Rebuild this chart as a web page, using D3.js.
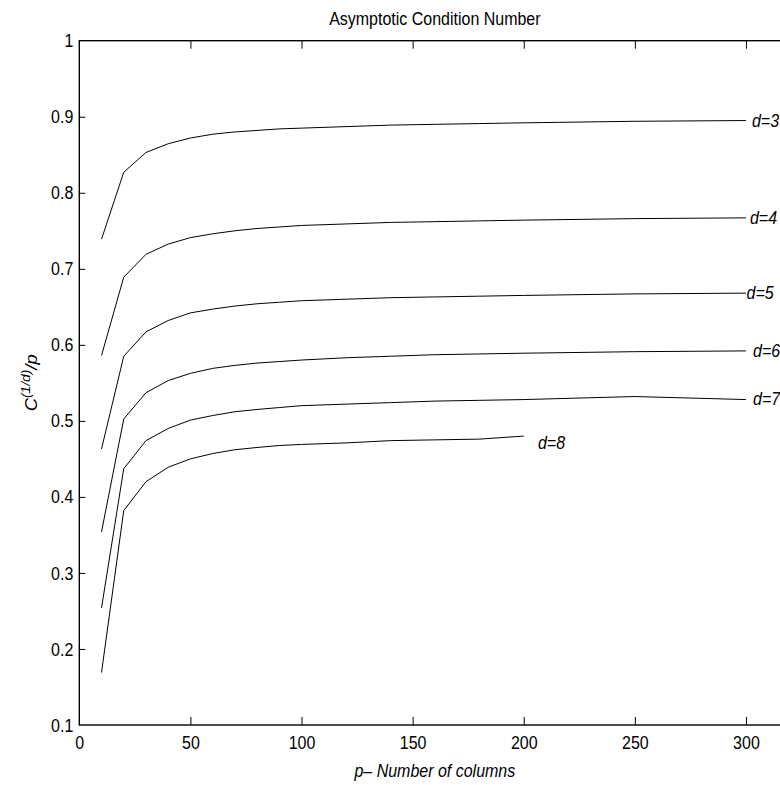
<!DOCTYPE html>
<html><head><meta charset="utf-8">
<script src="https://cdn.jsdelivr.net/npm/d3@7"></script>
<style>
html,body{margin:0;padding:0;background:#fff;}
svg{display:block;font-family:"Liberation Sans",Arial,Helvetica,sans-serif;}
</style></head>
<body>
<svg id="chart" width="780" height="785"></svg>
<script>
// ---- data ----
const pAll = [10,20,30,40,50,60,70,80,90,100,120,140,160,180,200,250,300];
const p8 = [10,20,30,40,50,60,70,80,90,100,120,140,160,180,200];
const cond3 = [0.739,0.827,0.853,0.8645,0.872,0.877,0.880,0.882,0.884,0.885,0.887,0.889,0.890,0.891,0.892,0.894,0.895];
const cond4 = [0.586,0.689,0.719,0.7325,0.741,0.746,0.750,0.753,0.755,0.757,0.759,0.761,0.762,0.763,0.764,0.766,0.767];
const cond5 = [0.463,0.585,0.617,0.632,0.642,0.647,0.651,0.654,0.656,0.658,0.660,0.662,0.663,0.664,0.665,0.667,0.668];
const cond6 = [0.354,0.5025,0.537,0.553,0.5625,0.569,0.573,0.576,0.578,0.580,0.583,0.585,0.587,0.588,0.589,0.591,0.592];
const cond7 = [0.254,0.437,0.474,0.490,0.501,0.507,0.512,0.515,0.5175,0.520,0.522,0.524,0.526,0.527,0.528,0.532,0.528];
const cond8 = [0.169,0.382,0.420,0.439,0.450,0.457,0.462,0.465,0.4676,0.469,0.471,0.474,0.475,0.476,0.480];
const seriesNames = ["d=3","d=4","d=5","d=6","d=7","d=8"];
const labelP = [302.7,301.8,300.3,303.2,303.2,206.4];
const labelV = [0.895,0.767,0.668,0.592,0.529,0.471];
const xTicks = [0,50,100,150,200,250,300];
const yTicks = [0.1,0.2,0.3,0.4,0.5,0.6,0.7,0.8,0.9,1];
const titleText = "Asymptotic Condition Number";
const xLabelText = "p\u2013 Number of columns";

// ---- layout ----
const S = 1.12; // vertical text stretch
const svg = d3.select("#chart");
const x = d3.scaleLinear().domain([0,320]).range([79.3,790.4]);
const y = d3.scaleLinear().domain([0.1,1]).range([725,40.7]);

const series = [
  {name:seriesNames[0], p:pAll, v:cond3},
  {name:seriesNames[1], p:pAll, v:cond4},
  {name:seriesNames[2], p:pAll, v:cond5},
  {name:seriesNames[3], p:pAll, v:cond6},
  {name:seriesNames[4], p:pAll, v:cond7},
  {name:seriesNames[5], p:p8, v:cond8}
];

// frame
svg.append("rect")
  .attr("x", x(0)).attr("y", y(1))
  .attr("width", x(320)-x(0)).attr("height", y(0.1)-y(1))
  .attr("fill","none").attr("stroke","#000").attr("stroke-width",1.4);

// axes
const gx = svg.append("g").attr("transform",`translate(0,${y(0.1)})`)
  .call(d3.axisBottom(x).tickValues(xTicks).tickSizeInner(-8).tickSizeOuter(0).tickPadding(0).tickFormat(d3.format("d")));
const gxt = svg.append("g").attr("transform",`translate(0,${y(1)})`)
  .call(d3.axisTop(x).tickValues(xTicks).tickSizeInner(-8).tickSizeOuter(0).tickFormat(""));
const gy = svg.append("g").attr("transform",`translate(${x(0)},0)`)
  .call(d3.axisLeft(y).tickValues(yTicks).tickSizeInner(-6).tickSizeOuter(0).tickPadding(6).tickFormat(d => d3.format("")(+d.toFixed(1))));
const gyr = svg.append("g").attr("transform",`translate(${x(320)},0)`)
  .call(d3.axisRight(y).tickValues(yTicks).tickSizeInner(-6).tickSizeOuter(0).tickFormat(""));

[gx,gxt,gy,gyr].forEach(g=>{
  g.select(".domain").remove();
  g.selectAll(".tick line").attr("stroke","#000").attr("stroke-width",1);
  g.selectAll(".tick text").attr("fill","#000").attr("font-size",16)
    .attr("font-family",'"Liberation Sans",Arial,sans-serif');
});
// hide ticks at frame corners
gx.selectAll(".tick").filter(d=>d===0).select("line").remove();
gxt.selectAll(".tick").filter(d=>d===0).select("line").remove();
gy.selectAll(".tick").filter(d=>d===0.1||d===1).select("line").remove();
gyr.selectAll(".tick").filter(d=>d===0.1||d===1).select("line").remove();

gx.selectAll(".tick text").attr("y",0).attr("dy",0)
  .attr("transform",`translate(0,24) scale(1,${S})`);
gy.selectAll(".tick text").attr("dy","0.34em")
  .attr("transform",`scale(1,${S})`)
  .attr("y",0);

// lines
const line = d3.line().x(d=>x(d[0])).y(d=>y(d[1]));
svg.append("g").selectAll("path").data(series).join("path")
  .attr("d", s => line(s.p.map((p,i)=>[p,s.v[i]])))
  .attr("fill","none").attr("stroke","#000").attr("stroke-width",1);

// series labels
svg.append("g").selectAll("text").data(series).join("text")
  .attr("transform",(s,i)=>`translate(${x(labelP[i])},${y(labelV[i])}) scale(1,${S})`)
  .attr("dy","0.35em")
  .attr("font-size",16).attr("font-style","italic")
  .text(s=>s.name);

// title
svg.append("text")
  .attr("transform",`translate(${(x(0)+x(320))/2},25) scale(1,${S})`)
  .attr("text-anchor","middle").attr("font-size",16)
  .text(titleText);

// x label
svg.append("text")
  .attr("transform",`translate(${(x(0)+x(320))/2},777) scale(1,${S})`)
  .attr("text-anchor","middle").attr("font-size",16).attr("font-style","italic")
  .text(xLabelText);

// y label
const yl = svg.append("text")
  .attr("transform",`translate(37,${(y(0.1)+y(1))/2}) rotate(-90) scale(1.15,1)`)
  .attr("text-anchor","middle").attr("font-size",16).attr("font-style","italic");
yl.append("tspan").text("C");
yl.append("tspan").attr("font-size",12).attr("dy",-7).text("(1/d)");
yl.append("tspan").attr("dy",7).text("/p");
</script>
</body></html>
